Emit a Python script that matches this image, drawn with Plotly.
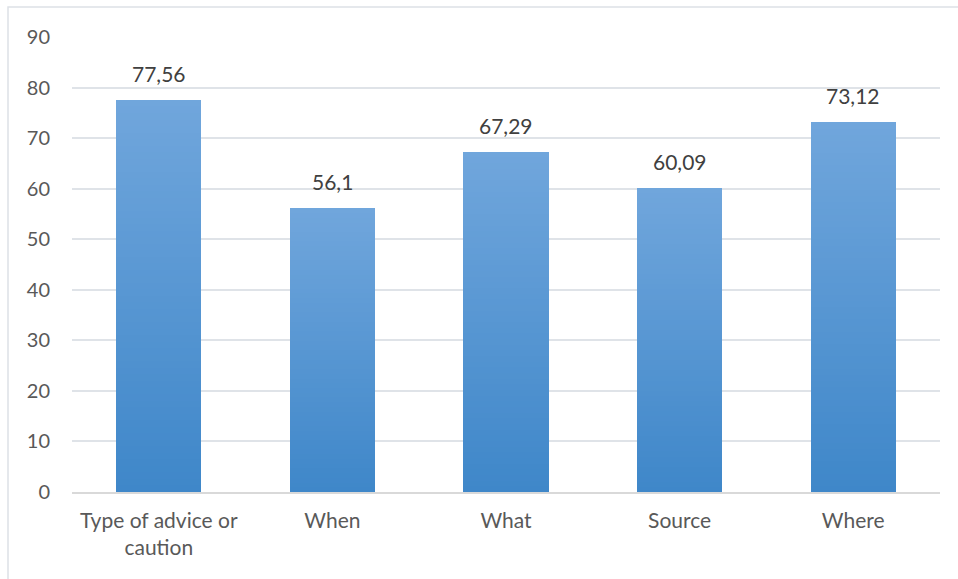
import plotly.graph_objects as go

# Chart data
categories = ["Type of advice or<br>caution", "When", "What", "Source", "Where"]
values = [77.56, 56.1, 67.29, 60.09, 73.12]
value_labels = [f"{v:g}".replace(".", ",") for v in values]
y_ticks = [0, 10, 20, 30, 40, 50, 60, 70, 80, 90]

# Vertical gradient per bar: darker at the base, lighter at the top
BOTTOM_RGB = (0x3F, 0x87, 0xC9)
TOP_RGB = (0x70, 0xA6, 0xDC)
N_SLICES = 60


def mix(t):
    r, g, b = (round(a + (c - a) * t) for a, c in zip(BOTTOM_RGB, TOP_RGB))
    return f"rgb({r},{g},{b})"


FONT = "Lato, 'Open Sans', sans-serif"
W, H = 958, 579
ML, MR, MT, MB = 72, 18, 37, 87

fig = go.Figure()
for i in range(N_SLICES):
    fig.add_trace(go.Bar(
        x=categories,
        y=[v / N_SLICES for v in values],
        marker=dict(color=mix(i / (N_SLICES - 1)), line=dict(width=0)),
        hoverinfo="skip",
        showlegend=False,
    ))

for cat, v, lab in zip(categories, values, value_labels):
    fig.add_annotation(
        x=cat, y=v, text=lab, showarrow=False,
        yanchor="bottom", yshift=12,
        font=dict(family=FONT, size=21, color="#404040"),
    )

# Light frame around the chart area
pw, ph = W - ML - MR, H - MT - MB
fig.add_shape(
    type="rect", xref="paper", yref="paper",
    x0=(8 - ML) / pw, x1=(W + 5 - ML) / pw,
    y0=-(MB + 5) / ph, y1=(ph + MT - 7) / ph,
    line=dict(color="#dde1e6", width=1.5), layer="below",
)

fig.update_layout(
    width=W, height=H,
    margin=dict(l=ML, r=MR, t=MT, b=MB),
    paper_bgcolor="white", plot_bgcolor="white",
    barmode="stack", bargap=0.51,
    font=dict(family=FONT, size=20, color="#595959"),
    xaxis=dict(
        showgrid=False, showline=True, linecolor="#d9d9d9", linewidth=1.5,
        ticks="", ticklabelstandoff=9,
        tickfont=dict(family=FONT, size=21, color="#595959"),
    ),
    yaxis=dict(
        range=[0, 90], tickvals=y_ticks, showgrid=True,
        gridcolor="#dfe3e8", gridwidth=1.5, zeroline=False,
        showline=False, ticks="", ticklabelstandoff=21,
        tickfont=dict(family=FONT, size=20, color="#595959"),
    ),
)

fig.write_html("out.html")
